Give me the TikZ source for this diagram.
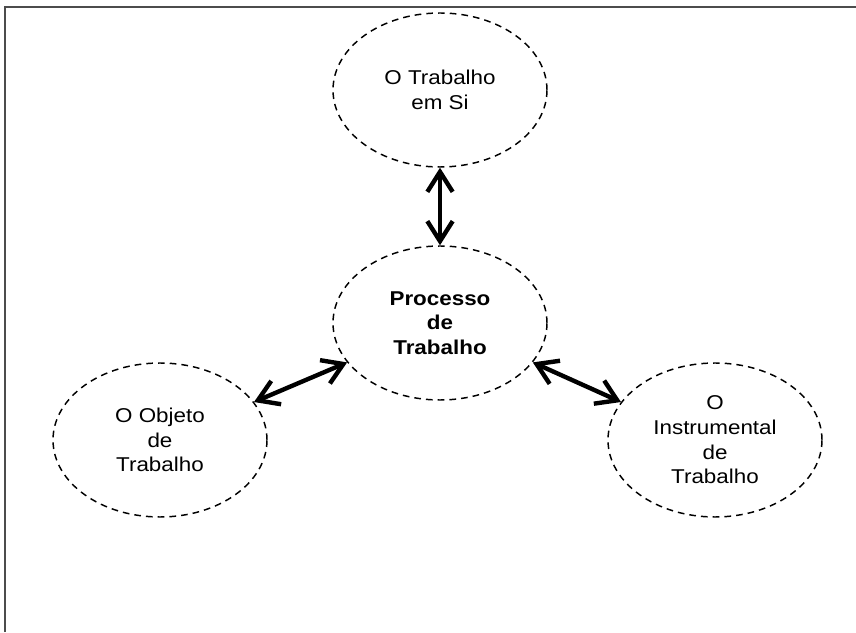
\documentclass[tikz,border=0pt]{standalone}
\usepackage{fontspec}
\setmainfont[FakeStretch=1.12]{Liberation Sans}
\usetikzlibrary{arrows.meta}
\usetikzlibrary{shapes.geometric}

\begin{document}
\begin{tikzpicture}[x=0.75pt,y=0.75pt,
    bubble/.style={ellipse, draw, dash pattern=on 5pt off 3.8pt, line width=1.1pt,
      minimum width=160.5pt, minimum height=115.5pt, inner sep=0pt, align=center,
      font=\fontsize{15}{18.5}\selectfont},
    link/.style={{Straight Barb[length=15pt,width=19pt]}-{Straight Barb[length=15pt,width=19pt]},
      line width=3.3pt}]
  \useasboundingbox (0,0) rectangle (856,632);
  \draw [gray!60!black, line width=0.8pt] (5,0) -- (5,625) -- (857,625); % Draws the frame

  \node [bubble] (trabalho) at (440,542) {O Trabalho\\em Si};
  \node [bubble, font=\fontsize{15}{18.5}\selectfont\bfseries] (processo) at (440,309) {Processo\\de\\Trabalho};
  \node [bubble] (objeto) at (160,192) {O Objeto\\de\\Trabalho};
  \node [bubble] (instrumental) at (715,192) {O\\Instrumental\\de\\Trabalho};

  \draw [link] (trabalho.south) to (processo.north);
  \draw [link] (objeto.22) to (processo.203);
  \draw [link] (processo.337) to (instrumental.158);
\end{tikzpicture}
\end{document}
